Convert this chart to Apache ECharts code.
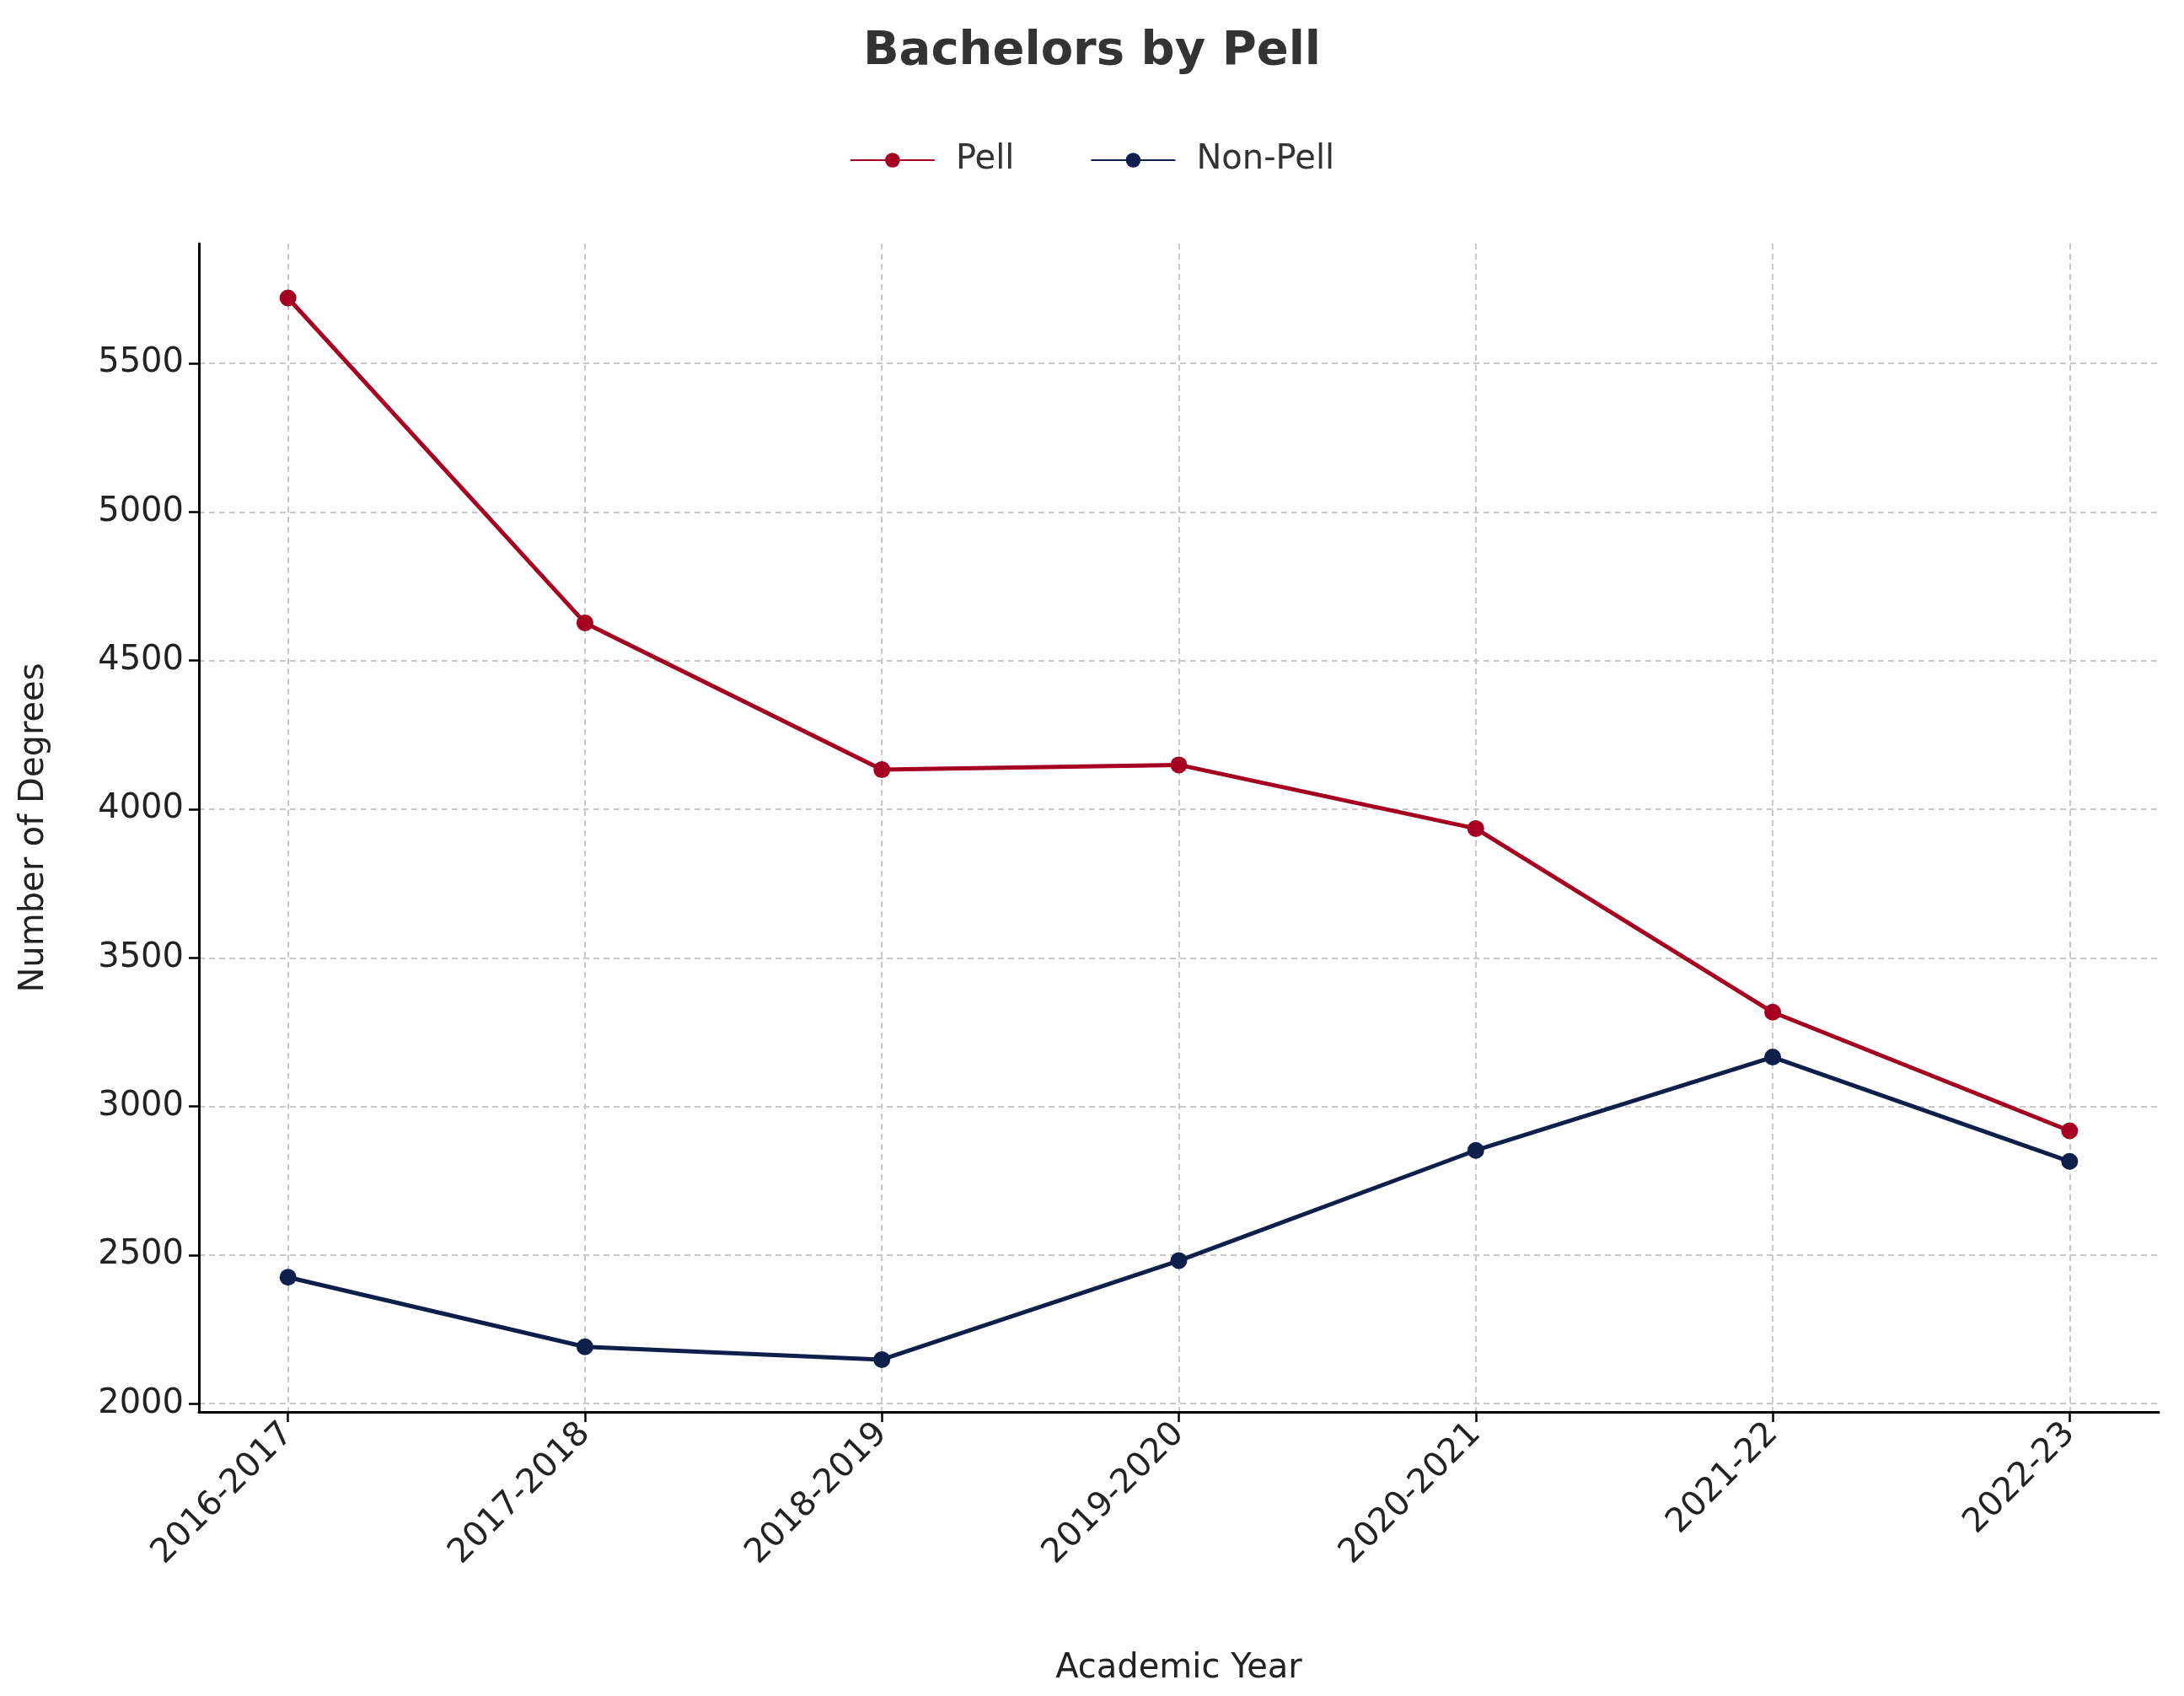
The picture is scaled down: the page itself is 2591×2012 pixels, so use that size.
<html>
<head>
<meta charset="utf-8">
<script src="https://cdn.jsdelivr.net/npm/echarts@6/dist/echarts.min.js"></script>
</head>
<body style="margin:0">
<div id="main" style="width:2591px;height:2012px;"></div>
<script>
var years = ['2016-2017', '2017-2018', '2018-2019', '2019-2020', '2020-2021', '2021-22', '2022-23'];
var pell = [5720, 4627, 4133, 4149, 3935, 3317, 2918];
var nonPell = [2425, 2191, 2148, 2481, 2852, 3166, 2815];
var yTicks = [2000, 2500, 3000, 3500, 4000, 4500, 5000, 5500];

var chart = echarts.init(document.getElementById('main'));
function pts(arr) { return arr.map(function (v, i) { return [i, v]; }); }
var font = 'DejaVu Sans';
var split = { show: true, lineStyle: { color: '#c8c8c8', type: [7, 5], width: 2 } };

chart.setOption({
  backgroundColor: '#fff',
  title: { text: 'Bachelors by Pell', left: 'center', top: 28,
    textStyle: { fontFamily: font, fontSize: 56, fontWeight: 'bold', color: '#333' } },
  legend: { top: 165, itemGap: 90, itemWidth: 100, itemHeight: 22,
    textStyle: { fontFamily: font, fontSize: 40, color: '#333', padding: [0, 0, 0, 20] } },
  grid: { left: 236, right: 30, top: 289, bottom: 337 },
  xAxis: {
    type: 'value', min: -0.3, max: 6.3,
    name: 'Academic Year', nameLocation: 'middle', nameGap: 285,
    nameTextStyle: { fontFamily: font, fontSize: 40, color: '#222' },
    axisLine: { onZero: false, lineStyle: { color: '#000', width: 3 } },
    axisTick: { show: true, customValues: [0, 1, 2, 3, 4, 5, 6], length: 12, lineStyle: { color: '#000', width: 2.5 } },
    axisLabel: { customValues: [0, 1, 2, 3, 4, 5, 6], rotate: 45, margin: 20,
      fontFamily: font, fontSize: 40, color: '#222',
      formatter: function (v) { return years[Math.round(v)]; } },
    splitLine: split
  },
  yAxis: {
    type: 'value', min: 1972, max: 5903,
    name: 'Number of Degrees', nameLocation: 'middle', nameGap: 175,
    nameTextStyle: { fontFamily: font, fontSize: 40, color: '#222' },
    axisLine: { show: true, onZero: false, lineStyle: { color: '#000', width: 3 } },
    axisTick: { show: true, customValues: yTicks, length: 12, lineStyle: { color: '#000', width: 2.5 } },
    axisLabel: { customValues: yTicks, margin: 18, fontFamily: font, fontSize: 40, color: '#222',
      formatter: function (v) { return String(v); } },
    splitLine: split
  },
  series: [
    { name: 'Pell', type: 'line', data: pts(pell), color: '#A50021', symbol: 'circle', symbolSize: 20,
      lineStyle: { width: 5 } },
    { name: 'Non-Pell', type: 'line', data: pts(nonPell), color: '#0F1F4B', symbol: 'circle', symbolSize: 20,
      lineStyle: { width: 5 } }
  ]
});
</script>
</body>
</html>
